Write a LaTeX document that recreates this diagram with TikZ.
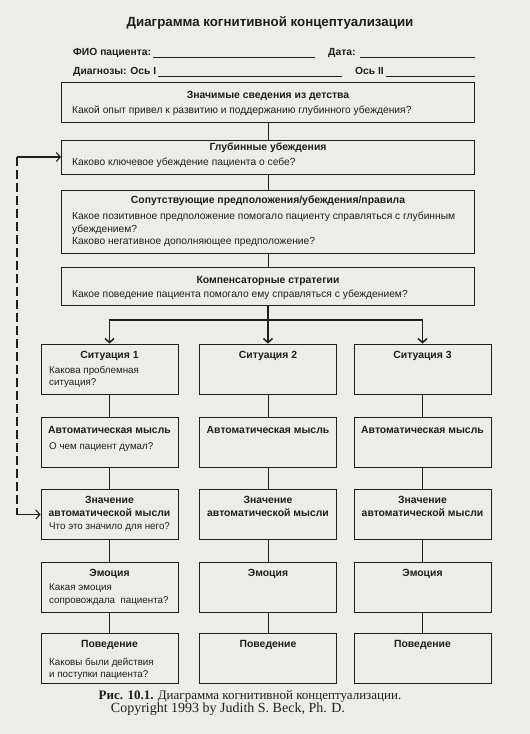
\documentclass[tikz,border=0pt]{standalone}
\usepackage{fontspec}
\setmainfont{Liberation Sans}
\newfontfamily\capfont{Liberation Serif}
\usetikzlibrary{arrows.meta, positioning, calc}
\definecolor{paper}{RGB}{236,236,233}
\definecolor{ink}{RGB}{30,30,30}

\begin{document}
\begin{tikzpicture}[x=1pt, y=-1pt, >={Straight Barb[length=4pt, width=9pt]},
  frame/.style={draw=ink, line width=0.9pt, inner sep=0pt},
  wide/.style={frame, minimum width=413pt},
  cell/.style={frame, minimum width=137pt, minimum height=50pt},
  head/.style={font=\bfseries\fontsize{10.4}{13}\selectfont, text=ink, inner sep=0pt, anchor=base},
  heads/.style={head, align=center, anchor=north},
  ask/.style={font=\fontsize{10.25}{12.5}\selectfont, text=ink, inner sep=0pt, anchor=base west},
  asks/.style={ask, align=left, anchor=north west},
  cellask/.style={ask, font=\fontsize{9.8}{12.5}\selectfont},
  cellasks/.style={asks, font=\fontsize{9.8}{12.5}\selectfont},
  field/.style={font=\bfseries\fontsize{10.3}{13}\selectfont, text=ink, inner sep=0pt, anchor=base west},
  capt/.style={font=\capfont\fontsize{13}{13}\selectfont, text=ink, inner sep=0pt, anchor=base},
  rule/.style={draw=ink, line width=0.6pt},
  link/.style={draw=ink, line width=0.7pt},
  flow/.style={draw=ink, line width=1.5pt},
  back/.style={draw=ink, line width=1.1pt}]
% paper
\fill[paper] (0,0) rectangle (530,734);
\useasboundingbox (0,0) rectangle (530,734);

% Header form
\node[font=\bfseries\fontsize{13.3}{15}\selectfont, text=ink, inner sep=0pt, anchor=base] (title) at (270,26.5) {Диаграмма когнитивной концептуализации};
\node[field] (fio) at (73,55.5) {ФИО пациента:};
\coordinate (fioend) at (315,57);
\draw[rule] ($(fio.base east)+(2,1.5)$) -- (fioend);
\node[field] (date) at (328,55.5) {Дата:};
\coordinate (dateend) at (475,57);
\draw[rule] ($(date.base east)+(4,1.5)$) -- (dateend);
\node[field] (diag) at (73,74.5) {Диагнозы: Ось I};
\coordinate (diagend) at (342,76);
\draw[rule] ($(diag.base east)+(2,1.5)$) -- (diagend);
\node[field] (axis) at (355,74.5) {Ось II};
\coordinate (axisend) at (475,76);
\draw[rule] ($(axis.base east)+(2,1.5)$) -- (axisend);

% Wide boxes
\node[wide, minimum height=40pt] (b1) at (268,102) {};
\node[head] (h1) at (268,98.5) {Значимые сведения из детства};
\node[ask] (q1) at (72,113.5) {Какой опыт привел к развитию и поддержанию глубинного убеждения?};

\node[wide, minimum height=34pt] (b2) at (268,157) {};
\node[head] (h2) at (268,150) {Глубинные убеждения};
\node[ask] (q2) at (72,165) {Каково ключевое убеждение пациента о себе?};

\node[wide, minimum height=63pt] (b3) at (268,221.5) {};
\node[head] (h3) at (268,203.5) {Сопутствующие предположения/убеждения/правила};
\node[asks] (q3) at (72,212) {Какое позитивное предположение помогало пациенту справляться с глубинным\\убеждением?\\Каково негативное дополняющее предположение?};

\node[wide, minimum height=38pt] (b4) at (268,286) {};
\node[head] (h4) at (268,283.5) {Компенсаторные стратегии};
\node[ask] (q4) at (72,297.5) {Какое поведение пациента помогало ему справляться с убеждением?};

\draw[link] (b1) -- (b2);
\draw[link] (b2) -- (b3);
\draw[link] (b3) -- (b4);

% Situation columns
\foreach \c/\x in {1/109.5, 2/268, 3/422.5} {
  \node[cell] (s\c) at (\x,369) {};
  \node[cell] (a\c) at (\x,442) {};
  \node[cell] (m\c) at (\x,514.5) {};
  \node[cell] (e\c) at (\x,587) {};
  \node[cell] (p\c) at (\x,658.5) {};
  \node[head] (sh\c) at (\x,358.5) {Ситуация \c};
  \node[head] (ah\c) at (\x,433.5) {Автоматическая мысль};
  \node[heads] (mh\c) at (\x,496) {Значение\\автоматической мысли};
  \node[head] (eh\c) at (\x,576.5) {Эмоция};
  \node[head] (ph\c) at (\x,647.5) {Поведение};
  \draw[link] (s\c) -- (a\c);
  \draw[link] (a\c) -- (m\c);
  \draw[link] (m\c) -- (e\c);
  \draw[link] (e\c) -- (p\c);
}
\node[cellasks] (sq1) at (49,366) {Какова проблемная\\ситуация?};
\node[cellask] (aq1) at (49,449.5) {О чем пациент думал?};
\node[cellask] (mq1) at (49,529) {Что это значило для него?};
\node[cellasks] (eq1) at (49,584) {Какая эмоция\\сопровождала~ пациента?};
\node[cellasks] (pq1) at (49,658) {Каковы были действия\\и поступки пациента?};

% Strategies lead to situations
\coordinate (fork) at (268,320);
\draw[flow] (b4) -- (fork);
\draw[flow,->] (fork) -| (s1);
\draw[flow,->] (fork) -- (s2);
\draw[flow,->] (fork) -| (s3);

% Meaning feeds back to core beliefs
\coordinate (up) at (17,157);
\coordinate (dn) at (17,514.5);
\draw[back, dash pattern=on 9pt off 4pt] (up) -- (dn);
\draw[back,->] (up) -- (b2);
\draw[back,->] (dn) -- (m1);

% Caption
\node[capt] (cap) at (250,699.5) {\textbf{Рис. 10.1.} Диаграмма когнитивной концептуализации.};
\node[capt, font=\capfont\fontsize{14}{13}\selectfont] (copy) at (228,712.5) {Copyright 1993 by Judith S. Beck, Ph. D.};
\end{tikzpicture}
\end{document}
